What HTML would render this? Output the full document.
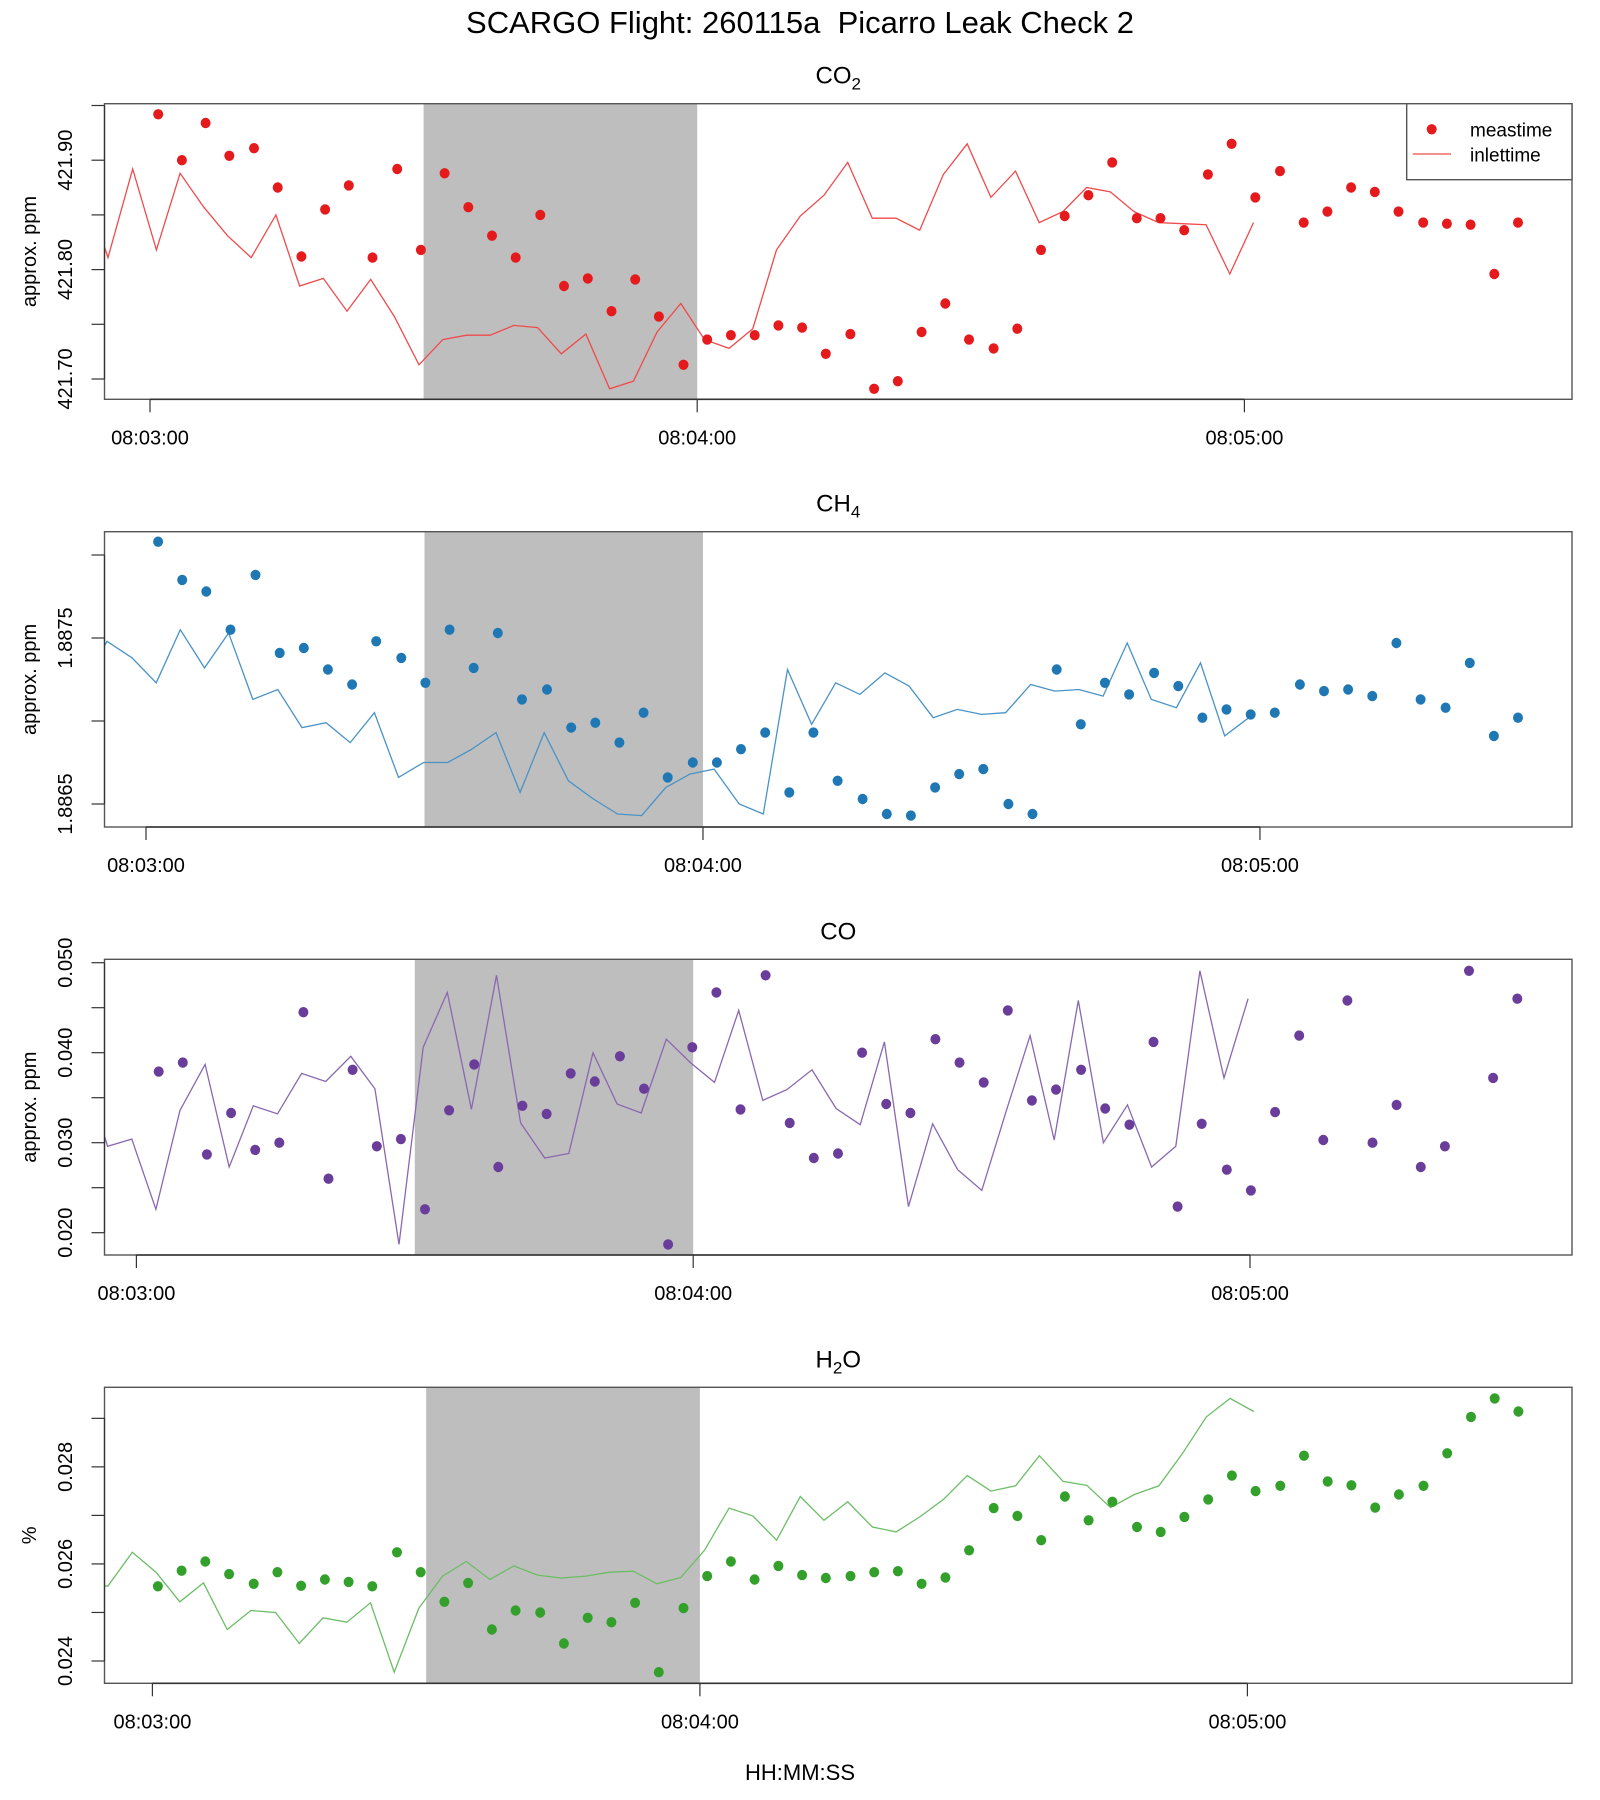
<!DOCTYPE html>
<html><head><meta charset="utf-8"><title>SCARGO Flight 260115a Picarro Leak Check 2</title>
<style>html,body{margin:0;padding:0;background:#fff}svg{display:block}text{font-family:"Liberation Sans",Arial,sans-serif;fill:#000}</style>
</head><body>
<svg id="chart" xmlns="http://www.w3.org/2000/svg" width="1600" height="1800" viewBox="0 0 1600 1800">
<rect x="0" y="0" width="1600" height="1800" fill="#fff"/>
<text x="800" y="33" font-size="31" text-anchor="middle">SCARGO Flight: 260115a&#160; Picarro Leak Check 2</text>
<text x="800" y="1780" font-size="22" text-anchor="middle">HH:MM:SS</text>
</svg>
<script>
// ---- data ----
const timesCO2 = [0.9,3.5,6.1,8.7,11.4,14.0,16.6,19.2,21.8,24.4,27.1,29.7,32.3,34.9,37.5,40.1,42.8,45.4,48.0,50.6,53.2,55.8,58.5,61.1,63.7,66.3,68.9,71.5,74.1,76.8,79.4,82.0,84.6,87.2,89.8,92.5,95.1,97.7,100.3,102.9,105.5,108.2,110.8,113.4,116.0,118.6,121.2,123.9,126.5,129.1,131.7,134.3,136.9,139.6,142.2,144.8,147.4,150.0];
const valuesCO2 = [421.942,421.900,421.934,421.904,421.911,421.875,421.812,421.855,421.877,421.811,421.892,421.818,421.888,421.857,421.831,421.811,421.850,421.785,421.792,421.762,421.791,421.757,421.713,421.736,421.740,421.740,421.749,421.747,421.723,421.741,421.691,421.698,421.743,421.769,421.736,421.728,421.746,421.818,421.849,421.868,421.898,421.847,421.847,421.836,421.887,421.915,421.866,421.890,421.843,421.853,421.875,421.871,421.853,421.843,421.842,421.841,421.796,421.843];
const timesCH4 = [1.3,3.9,6.5,9.1,11.8,14.4,17.0,19.6,22.2,24.8,27.5,30.1,32.7,35.3,37.9,40.5,43.2,45.8,48.4,51.0,53.6,56.2,58.9,61.5,64.1,66.7,69.3,71.9,74.5,77.2,79.8,82.4,85.0,87.6,90.2,92.9,95.5,98.1,100.7,103.3,105.9,108.6,111.2,113.8,116.4,119.0,121.6,124.3,126.9,129.5,132.1,134.7,137.3,140.0,142.6,145.2,147.8];
const valuesCH4 = [1.88808,1.88785,1.88778,1.88755,1.88788,1.88741,1.88744,1.88731,1.88722,1.88748,1.88738,1.88723,1.88755,1.88732,1.88753,1.88713,1.88719,1.88696,1.88699,1.88687,1.88705,1.88666,1.88675,1.88675,1.88683,1.88693,1.88657,1.88693,1.88664,1.88653,1.88644,1.88643,1.88660,1.88668,1.88671,1.88650,1.88644,1.88731,1.88698,1.88723,1.88716,1.88729,1.88721,1.88702,1.88707,1.88704,1.88705,1.88722,1.88718,1.88719,1.88715,1.88747,1.88713,1.88708,1.88735,1.88691,1.88702];
const timesCO = [2.4,5.0,7.6,10.2,12.8,15.4,18.0,20.7,23.3,25.9,28.5,31.1,33.7,36.4,39.0,41.6,44.2,46.8,49.4,52.1,54.7,57.3,59.9,62.5,65.1,67.8,70.4,73.0,75.6,78.2,80.8,83.4,86.1,88.7,91.3,93.9,96.5,99.1,101.8,104.4,107.0,109.6,112.2,114.8,117.5,120.1,122.7,125.3,127.9,130.5,133.2,135.8,138.4,141.0,143.6,146.2,148.8];
const valuesCO = [0.0379,0.0389,0.0287,0.0333,0.0292,0.0300,0.0445,0.0260,0.0381,0.0296,0.0304,0.0226,0.0336,0.0387,0.0273,0.0341,0.0332,0.0377,0.0368,0.0396,0.0360,0.0187,0.0406,0.0467,0.0337,0.0486,0.0322,0.0283,0.0288,0.0400,0.0343,0.0333,0.0415,0.0389,0.0367,0.0447,0.0347,0.0359,0.0381,0.0338,0.0320,0.0412,0.0229,0.0321,0.0270,0.0247,0.0334,0.0419,0.0303,0.0458,0.0300,0.0342,0.0273,0.0296,0.0491,0.0372,0.0460];
const timesH2O = [0.6,3.2,5.8,8.4,11.1,13.7,16.3,18.9,21.5,24.1,26.8,29.4,32.0,34.6,37.2,39.8,42.5,45.1,47.7,50.3,52.9,55.5,58.2,60.8,63.4,66.0,68.6,71.2,73.8,76.5,79.1,81.7,84.3,86.9,89.5,92.2,94.8,97.4,100.0,102.6,105.2,107.9,110.5,113.1,115.7,118.3,120.9,123.6,126.2,128.8,131.4,134.0,136.6,139.3,141.9,144.5,147.1,149.7];
const valuesH2O = [0.02554,0.02586,0.02605,0.02579,0.02559,0.02583,0.02555,0.02568,0.02563,0.02554,0.02624,0.02583,0.02522,0.02561,0.02465,0.02504,0.02500,0.02436,0.02489,0.02480,0.02520,0.02377,0.02509,0.02575,0.02605,0.02568,0.02596,0.02577,0.02571,0.02575,0.02583,0.02585,0.02559,0.02572,0.02628,0.02715,0.02699,0.02649,0.02739,0.02690,0.02728,0.02676,0.02666,0.02697,0.02733,0.02782,0.02750,0.02761,0.02823,0.02770,0.02762,0.02716,0.02743,0.02761,0.02828,0.02903,0.02941,0.02914];
const inletLagSec = 29;              // inlet time = measurement time - lag
const shadeStartSec = 30, shadeEndSec = 60;  // leak-check window
const xTickSecs = [0, 60, 120];
const xTickLabels = ["08:03:00", "08:04:00", "08:05:00"];
const ticksCO2 = [421.70,421.75,421.80,421.85,421.90,421.95];
const labelsCO2 = ["421.70","","421.80","","421.90",""];
const ticksCH4 = [1.8865,1.8870,1.8875,1.8880];
const labelsCH4 = ["1.8865","","1.8875",""];
const ticksCO = [0.020,0.025,0.030,0.035,0.040,0.045,0.050];
const labelsCO = ["0.020","","0.030","","0.040","","0.050"];
const ticksH2O = [0.024,0.025,0.026,0.027,0.028,0.029];
const labelsH2O = ["0.024","","0.026","","0.028",""];

// ---- layout ----
const NS = "http://www.w3.org/2000/svg";
const svg = document.getElementById("chart");
const PL = 104.5, PR = 1572;
function mk(tag, attrs, parent) {
  const e = document.createElementNS(NS, tag);
  for (const k in attrs) e.setAttribute(k, attrs[k]);
  (parent || svg).appendChild(e);
  return e;
}
const panels = [
  {key:"co2", title:["CO","2"], ylab:"approx. ppm", top:103.7, bot:399.3, x0:150, pxs:9.12, v0:421.70, y0:379, k:1094, color:"#e41a1c", line:"#ef4a4c", times:timesCO2, vals:valuesCO2, ticks:ticksCO2, labels:labelsCO2, legend:true},
  {key:"ch4", title:["CH","4"], ylab:"approx. ppm", top:531.7, bot:827, x0:146, pxs:9.283, v0:1.8865, y0:804, k:166000, color:"#1f78b4", line:"#4a93c6", times:timesCH4, vals:valuesCH4, ticks:ticksCH4, labels:labelsCH4},
  {key:"co", title:["CO",""], ylab:"approx. ppm", top:959.3, bot:1255, x0:136.4, pxs:9.28, v0:0.020, y0:1232.7, k:9000, color:"#6a3d9a", line:"#8a68b0", times:timesCO, vals:valuesCO, ticks:ticksCO, labels:labelsCO},
  {key:"h2o", title:["H","2","O"], ylab:"%", top:1387.3, bot:1683.3, x0:152.4, pxs:9.125, v0:0.024, y0:1661, k:48533, color:"#33a02c", line:"#6cbd66", times:timesH2O, vals:valuesH2O, ticks:ticksH2O, labels:labelsH2O}
];

panels.forEach(function(p) {
  const g = mk("g", {});
  
  
  const xs = t => p.x0 + t * p.pxs;
  const ys = v => p.y0 - (v - p.v0) * p.k;
  const clipId = "clip-" + p.key;
  const cp = mk("clipPath", {id: clipId}, g);
  mk("rect", {x: PL, y: p.top, width: PR - PL, height: p.bot - p.top}, cp);

  const sh = mk("rect", {x: xs(shadeStartSec), y: p.top, width: xs(shadeEndSec) - xs(shadeStartSec), height: p.bot - p.top, fill: "#bebebe"}, g);
  
  

  const pts = [];
  for (let i = 0; i < p.vals.length; i++) {
    pts.push((xs(p.times[i] - inletLagSec)).toFixed(1) + "," + ys(p.vals[i]).toFixed(1));
  }
  const pl = mk("polyline", {points: pts.join(" "), fill: "none", stroke: p.line, "stroke-width": 1.3, "clip-path": "url(#" + clipId + ")"}, g);
  
  

  const pg = mk("g", {"clip-path": "url(#" + clipId + ")"}, g);
  
  
  for (let i = 0; i < p.vals.length; i++) {
    const c = mk("ellipse", {cx: xs(p.times[i]).toFixed(1), cy: ys(p.vals[i]).toFixed(1), rx: 5, ry: 5.2, fill: p.color}, pg);
    
    
  }

  const bx = mk("rect", {x: PL, y: p.top, width: PR - PL, height: p.bot - p.top, fill: "none", stroke: "#555", "stroke-width": 1.4}, g);
  
  

  const xa = mk("g", {}, g);
  
  
  mk("line", {x1: xs(xTickSecs[0]), x2: xs(xTickSecs[xTickSecs.length - 1]), y1: p.bot, y2: p.bot, stroke: "#333", "stroke-width": 1.6}, xa);
  xTickSecs.forEach(function(s, i) {
    mk("line", {x1: xs(s), x2: xs(s), y1: p.bot, y2: p.bot + 13, stroke: "#333", "stroke-width": 1.2}, xa);
    const t = mk("text", {x: xs(s), y: p.bot + 45, "font-size": 20, "text-anchor": "middle"}, xa);
    t.textContent = xTickLabels[i];
    
    
  });

  const ya = mk("g", {}, g);
  
  
  mk("line", {x1: PL, x2: PL, y1: ys(p.ticks[0]), y2: ys(p.ticks[p.ticks.length - 1]), stroke: "#333", "stroke-width": 1.2}, ya);
  p.ticks.forEach(function(v, i) {
    const y = ys(v);
    mk("line", {x1: PL - 13, x2: PL, y1: y, y2: y, stroke: "#333", "stroke-width": 1.2}, ya);
    if (p.labels[i]) {
      const t = mk("text", {x: 0, y: 0, "font-size": 20, "text-anchor": "middle", transform: "translate(72," + y.toFixed(1) + ") rotate(-90)"}, ya);
      t.textContent = p.labels[i];
      
      
    }
  });
  const yl = mk("text", {x: 0, y: 0, "font-size": 20, "text-anchor": "middle", transform: "translate(36," + ((p.top + p.bot) / 2).toFixed(1) + ") rotate(-90)"}, g);
  yl.textContent = p.ylab;
  
  

  const tt = mk("text", {x: (PL + PR) / 2, y: p.top - 20, "font-size": 24, "text-anchor": "middle"}, g);
  
  
  const a = mk("tspan", {}, tt); a.textContent = p.title[0];
  if (p.title[1]) { const b = mk("tspan", {dy: 6, "font-size": 17}, tt); b.textContent = p.title[1]; }
  if (p.title[2]) { const c = mk("tspan", {dy: -6}, tt); c.textContent = p.title[2]; }

  if (p.legend) {
    const lg = mk("g", {}, g);
    
    
    mk("rect", {x: 1406.7, y: p.top, width: PR - 1406.7, height: 76, fill: "#fff", stroke: "#555", "stroke-width": 1.4}, lg);
    const d = mk("ellipse", {cx: 1431.7, cy: 129.3, rx: 5, ry: 5.2, fill: p.color}, lg);
    
    
    const l = mk("line", {x1: 1412.7, x2: 1451, y1: 154, y2: 154, stroke: p.line, "stroke-width": 1.3}, lg);
    
    
    const t1 = mk("text", {x: 1470, y: 136.5, "font-size": 19}, lg); t1.textContent = "meastime";
    
    
    const t2 = mk("text", {x: 1470, y: 161.5, "font-size": 19}, lg); t2.textContent = "inlettime";
    
    
  }
});
</script>
</body></html>
